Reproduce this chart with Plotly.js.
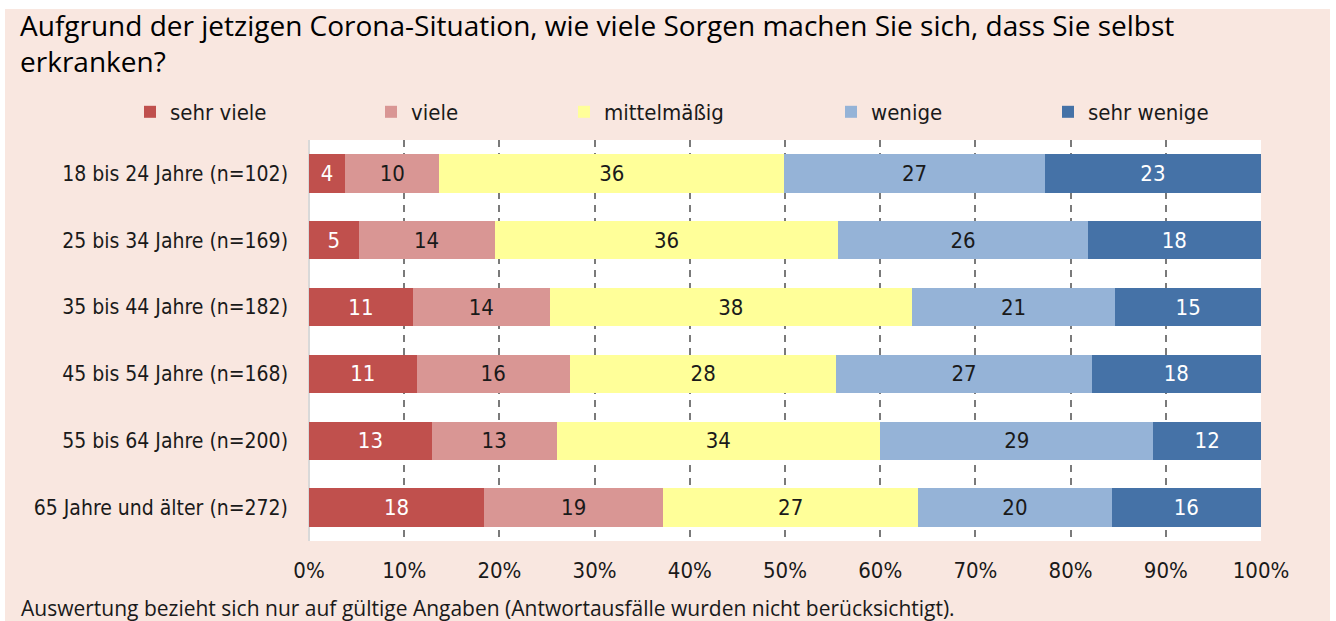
<!DOCTYPE html>
<html>
<head>
<meta charset="utf-8">
<script src="https://cdn.plot.ly/plotly-3.0.1.min.js"></script>
<style>
  html, body { margin: 0; padding: 0; background: #ffffff; width: 1336px; height: 621px; overflow: hidden; }
  #chart { position: absolute; left: 0; top: 0; width: 1336px; height: 621px; }
</style>
</head>
<body>
<div id="chart"></div>
<script>
// ---- data ----
var categories = [
  '18 bis 24 Jahre (n=102)',
  '25 bis 34 Jahre (n=169)',
  '35 bis 44 Jahre (n=182)',
  '45 bis 54 Jahre (n=168)',
  '55 bis 64 Jahre (n=200)',
  '65 Jahre und älter (n=272)'
];
var seriesNames = ['sehr viele', 'viele', 'mittelmäßig', 'wenige', 'sehr wenige'];

// segment widths in percent
var sehrViele  = [3.8, 5.2, 10.9, 11.3, 12.9, 18.4];
var viele      = [9.9, 14.3, 14.4, 16.1, 13.1, 18.8];
var mittel     = [36.2, 36.1, 38.0, 28.0, 34.0, 26.8];
var wenige     = [27.4, 26.2, 21.4, 26.8, 28.7, 20.3];
var sehrWenige = [22.7, 18.2, 15.3, 17.8, 11.3, 15.7];

// printed labels inside the bars
var lblSehrViele  = [4, 5, 11, 11, 13, 18];
var lblViele      = [10, 14, 14, 16, 13, 19];
var lblMittel     = [36, 36, 38, 28, 34, 27];
var lblWenige     = [27, 26, 21, 27, 29, 20];
var lblSehrWenige = [23, 18, 15, 18, 12, 16];

var xTickVals = [0, 10, 20, 30, 40, 50, 60, 70, 80, 90, 100];
var xTickText = ['0%', '10%', '20%', '30%', '40%', '50%', '60%', '70%', '80%', '90%', '100%'];

var titleText = 'Aufgrund der jetzigen Corona-Situation, wie viele Sorgen machen Sie sich, dass Sie selbst<br>erkranken?';
var noteText = 'Auswertung bezieht sich nur auf gültige Angaben (Antwortausfälle wurden nicht berücksichtigt).';

// ---- styling ----
var NARROW = '"Liberation Sans Narrow", "DejaVu Sans Condensed", "Roboto Condensed", "Liberation Sans", sans-serif';
var WIDE = '"Open Sans", "Noto Sans", sans-serif';
var colors = ['#C0504D', '#D99694', '#FFFF99', '#95B3D7', '#4572A7'];
var textColors = ['#ffffff', '#1a1a1a', '#1a1a1a', '#1a1a1a', '#ffffff'];
var values = [sehrViele, viele, mittel, wenige, sehrWenige];
var labels = [lblSehrViele, lblViele, lblMittel, lblWenige, lblSehrWenige];
var legendNames = ['legend', 'legend2', 'legend3', 'legend4', 'legend5'];
var legendSquareLeft = [146, 387, 580, 847, 1064]; // page px

var W = 1336, H = 621;
var PL = 309, PR = 1261, PT = 140, PB = 541; // plot area in page px
function px2x(px) { return (px - PL) / (PR - PL); }
function py2y(py) { return (PB - py) / (PB - PT); }

var traces = values.map(function (v, i) {
  return {
    type: 'bar',
    orientation: 'h',
    name: seriesNames[i],
    y: categories,
    x: v,
    text: labels[i].map(String),
    textposition: 'inside',
    insidetextanchor: 'middle',
    constraintext: 'none',
    textangle: 0,
    textfont: { family: NARROW, size: 22, color: textColors[i] },
    marker: { color: colors[i], line: { width: 0 } },
    legend: legendNames[i],
    hoverinfo: 'skip'
  };
});

var layout = {
  width: W,
  height: H,
  paper_bgcolor: '#ffffff',
  plot_bgcolor: '#ffffff',
  margin: { l: PL, r: W - PR, t: PT, b: H - PB, pad: 0 },
  barmode: 'stack',
  bargap: 0.427,
  showlegend: true,
  title: {
    text: titleText,
    font: { family: WIDE, size: 28, weight: 500, color: '#000000' },
    xref: 'container', x: 20 / W, xanchor: 'left',
    yref: 'container', y: 1 - 36 / H, yanchor: 'top'
  },
  shapes: [
    { type: 'rect', layer: 'below', xref: 'paper', yref: 'paper',
      x0: px2x(5), x1: px2x(1330), y0: py2y(640), y1: py2y(9),
      fillcolor: '#F9E7E0', line: { width: 0 } },
    { type: 'rect', layer: 'below', xref: 'paper', yref: 'paper',
      x0: 0, x1: 1, y0: 0, y1: 1,
      fillcolor: '#ffffff', line: { width: 0 } }
  ],
  xaxis: {
    range: [0, 100],
    tickvals: xTickVals,
    ticktext: xTickText,
    ticks: '',
    showgrid: true,
    gridcolor: '#7a7a7a',
    gridwidth: 2,
    griddash: '7px,6px',
    zeroline: true,
    zerolinecolor: '#d9d9d9',
    zerolinewidth: 2,
    showline: false,
    ticklabelstandoff: 14,
    tickfont: { family: NARROW, size: 22, color: '#1a1a1a' },
    fixedrange: true
  },
  yaxis: {
    type: 'category',
    autorange: 'reversed',
    showgrid: false,
    zeroline: false,
    showline: false,
    ticks: '',
    ticklabelstandoff: 20,
    tickfont: { family: NARROW, size: 21, color: '#1a1a1a' },
    fixedrange: true
  },
  annotations: [{
    text: noteText,
    showarrow: false,
    xref: 'paper', yref: 'paper',
    x: px2x(19), xanchor: 'left',
    y: py2y(608), yanchor: 'middle',
    font: { family: WIDE, size: 21, color: '#1a1a1a' }
  }]
};

legendNames.forEach(function (ln, i) {
  layout[ln] = {
    orientation: 'h',
    xref: 'container', yref: 'container',
    x: (legendSquareLeft[i] - 16) / W, xanchor: 'left',
    y: 1 - 112 / H, yanchor: 'middle',
    bgcolor: 'rgba(0,0,0,0)',
    borderwidth: 0,
    font: { family: NARROW, size: 22, color: '#1a1a1a' },
    itemclick: false, itemdoubleclick: false
  };
});

Plotly.newPlot('chart', traces, layout, { displayModeBar: false, staticPlot: true });
</script>
</body>
</html>
